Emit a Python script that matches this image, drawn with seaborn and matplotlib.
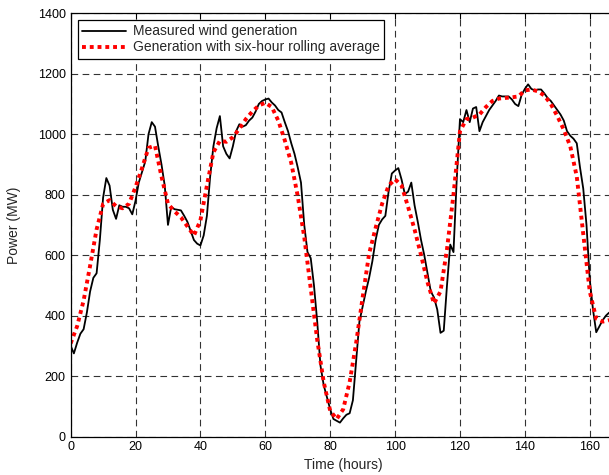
import numpy as np
import pandas as pd
import seaborn as sns
import matplotlib.pyplot as plt

# Measured wind generation, hourly (MW)
hours = list(range(0, 167))
measured = [
    300, 275, 310, 340, 355, 410, 480, 525, 540, 650,
    790, 855, 830, 750, 720, 765, 760, 760, 755, 735,
    780, 840, 875, 910, 1000, 1040, 1025, 960, 900, 830,
    700, 760, 752, 750, 748, 730, 710, 680, 650, 638,
    632, 665, 730, 860, 960, 1020, 1060, 960, 935, 920,
    960, 1010, 1033, 1025, 1030, 1045, 1055, 1075, 1100, 1110,
    1115, 1118, 1105, 1095, 1080, 1072, 1040, 1010, 970, 935,
    890, 840, 700, 610, 590, 500, 380, 235, 170, 130,
    90, 58, 52, 46, 60, 72, 77, 120, 250, 380,
    430, 480, 525, 580, 650, 700, 718, 730, 810, 870,
    880, 888, 850, 802, 810, 840, 765, 710, 650, 600,
    540, 480, 460, 420, 343, 350, 500, 635, 610, 850,
    1050, 1040, 1080, 1040, 1085, 1090, 1010, 1040, 1060, 1080,
    1095, 1110, 1128, 1125, 1125, 1125, 1115, 1100, 1093, 1130,
    1150, 1165, 1150, 1145, 1148, 1148, 1135, 1120, 1110, 1095,
    1080, 1065, 1045, 1010, 995, 985, 970, 890, 820, 700,
    520, 420, 345, 365, 385, 400, 410,
]

# Six-hour rolling average (every 2 hours)
avg_hours = list(range(0, 167, 2))
rolling = [
    308, 365, 450, 565, 685, 769, 782, 762, 755, 770,
    825, 888, 955, 962, 860, 770, 745, 725, 695, 665,
    715, 830, 940, 978, 975, 990, 1018, 1050, 1075, 1095,
    1104, 1090, 1045, 980, 905, 795, 660, 490, 320, 180,
    85, 58, 90, 180, 310, 460, 605, 690, 770, 830,
    851, 830, 760, 685, 600, 510, 440, 480, 620, 800,
    1010, 1050, 1055, 1065, 1090, 1110, 1118, 1120, 1122, 1125,
    1145, 1148, 1142, 1128, 1100, 1060, 1015, 960, 860, 670,
    480, 390, 380, 385,
]

x_ticks = [0, 20, 40, 60, 80, 100, 120, 140, 160]
y_ticks = [0, 200, 400, 600, 800, 1000, 1200, 1400]

sns.set_style("white")
plt.rcParams['font.family'] = ['Liberation Sans', 'DejaVu Sans']

fig = plt.figure(figsize=(6.09, 4.75), dpi=100)
ax = fig.add_axes([0.116, 0.081, 0.895, 0.891])

sns.lineplot(x=hours, y=measured, ax=ax, color='black', linewidth=1.3,
             label='Measured wind generation')
sns.lineplot(x=avg_hours, y=rolling, ax=ax, color='red', linewidth=2.8,
             linestyle=(0, (1, 1)),
             label='Generation with six-hour rolling average')

ax.set_xlim(0, 168)
ax.set_ylim(0, 1400)
ax.set_xticks(x_ticks)
ax.set_yticks(y_ticks)
ax.grid(True, color='black', linestyle=(0, (6, 4)), linewidth=0.8, alpha=0.8)
ax.tick_params(direction='in', length=4, labelsize=9, colors='black',
               top=True, right=False)
for s in ax.spines.values():
    s.set_color('black')
    s.set_linewidth(0.9)

ax.set_xlabel('Time (hours)', fontsize=10, labelpad=3)
ax.set_ylabel('Power (MW)', fontsize=10, labelpad=12)

leg = ax.legend(loc='upper left', fontsize=10, fancybox=False, framealpha=1,
                edgecolor='black', borderaxespad=0.5, handlelength=3.2,
                handletextpad=0.5, borderpad=0.3, labelspacing=0.15)
leg.get_frame().set_linewidth(0.9)

fig.savefig('out.png', dpi=100)
